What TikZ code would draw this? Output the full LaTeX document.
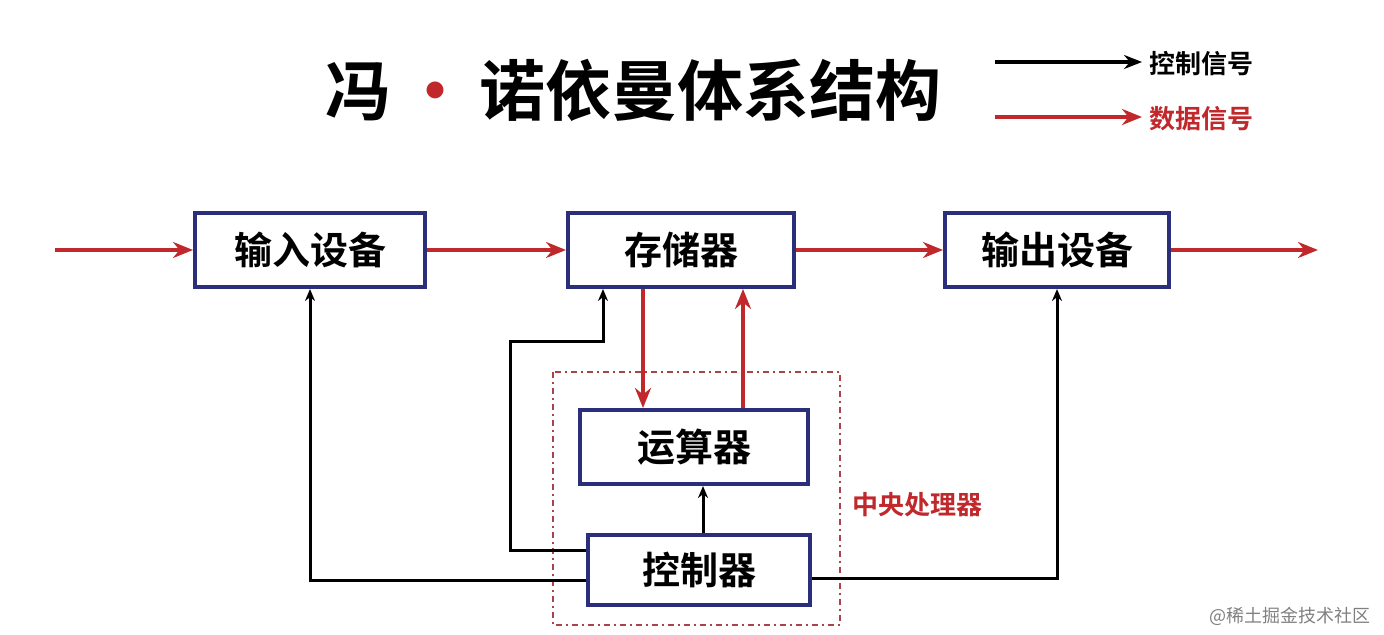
\documentclass[tikz,border=0pt]{standalone}
\usepackage{fontspec}
\setmainfont{Noto Sans CJK SC}
\newfontfamily\cjkb[BoldFont=Noto Sans CJK SC Bold]{Noto Sans CJK SC}
\usetikzlibrary{arrows.meta}
\definecolor{navy}{HTML}{2B2E7A}
\definecolor{dred}{HTML}{C0282C}
\begin{document}
\begin{tikzpicture}[x=0.5pt,y=-0.5pt,
  blk/.style={draw=navy,line width=2pt,inner sep=0pt,font=\cjkb\bfseries\fontsize{19}{19}\selectfont},
  data/.style={draw=dred,line width=2.2pt,-{Stealth[length=10pt,width=8pt]}},
  ctrl/.style={draw=black,line width=1.5pt,-{Stealth[length=6pt,width=5pt]}}]
\useasboundingbox (0,0) rectangle (1384,635);
\node[font=\cjkb\bfseries\fontsize{33}{33}\selectfont] (title) at (633,90) {冯\,\textcolor{dred}{•}\,诺依曼体系结构};
\coordinate (l1a) at (995,62); \coordinate (l1b) at (1142,62);
\coordinate (l2a) at (995,117); \coordinate (l2b) at (1142,117);
\draw[ctrl,line width=2pt,-{Stealth[length=9pt,width=7pt]}] (l1a) -- (l1b);
\draw[data] (l2a) -- (l2b);
\node[anchor=west,font=\cjkb\bfseries\fontsize{13}{13}\selectfont] (lt1) at (1142,64) {控制信号};
\node[anchor=west,font=\cjkb\bfseries\fontsize{13}{13}\selectfont,text=dred] (lt2) at (1142,119) {数据信号};
\node[blk,minimum width=115pt,minimum height=37pt] (in) at (310,250) {输入设备};
\node[blk,minimum width=113pt,minimum height=37pt] (mem) at (681,250) {存储器};
\node[blk,minimum width=112pt,minimum height=37pt] (out) at (1057,250) {输出设备};
\node[blk,minimum width=114pt,minimum height=37pt] (alu) at (694,447) {运算器};
\node[blk,minimum width=111pt,minimum height=35pt] (cu) at (699,570) {控制器};
\draw[dred!70!gray,line width=1pt,dash dot] (553,372) rectangle (840,625);
\node[anchor=west,text=dred,font=\cjkb\bfseries\fontsize{13}{13}\selectfont] (cpu) at (845,505) {中央处理器};
\coordinate (s0) at (55,250); \coordinate (e0) at (1318,250);
\draw[data] (s0) -- (in.west);
\draw[data] (in.east) -- (mem.west);
\draw[data] (mem.east) -- (out.west);
\draw[data] (out.east) -- (e0);
\draw[data] (mem.south -| 643,0) -- (alu.north -| 643,0);
\draw[data] (alu.north -| 743,0) -- (mem.south -| 743,0);
\draw[ctrl] (cu.west |- 0,580) -| (in.south);
\draw[ctrl] (cu.east |- 0,578) -| (out.south);
\draw[ctrl] (cu.north -| 703,0) -- (alu.south -| 703,0);
\draw[ctrl] (cu.west |- 0,550) -- (510,550) -- (510,342) -- (603,342) -- (mem.south -| 603,0);
\node[anchor=east,text=gray,font=\fontsize{9}{9}\selectfont] (wm) at (1378,616) {@稀土掘金技术社区};
\end{tikzpicture}
\end{document}
